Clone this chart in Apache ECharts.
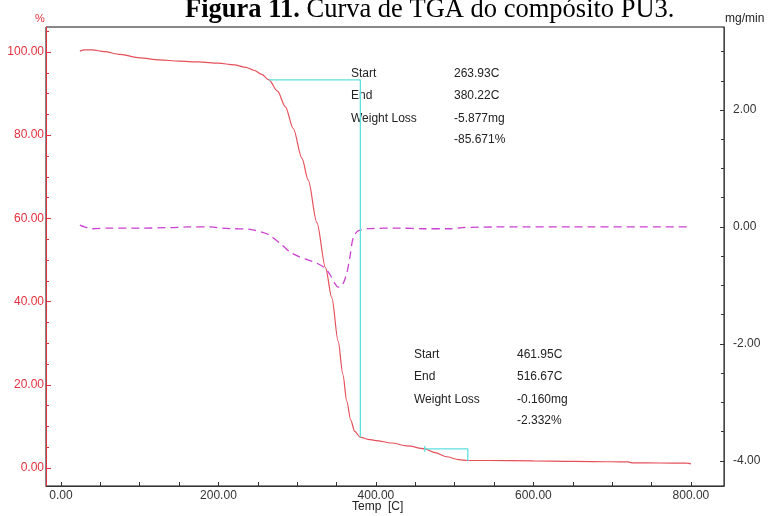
<!doctype html>
<html>
<head>
<meta charset="utf-8">
<title>Curva de TGA PU3</title>
<script src="https://cdn.jsdelivr.net/npm/echarts@6/dist/echarts.min.js"></script>
<style>
html, body { margin: 0; padding: 0; background: #fff; }
#chart { width: 771px; height: 516px; }
</style>
</head>
<body>
<div id="chart"></div>
<script type="text/javascript">
// TGA (peso %)
var tgaTemp = [24, 30, 40, 55, 75, 100, 125, 150, 175, 200, 220, 235, 245, 255, 264, 275, 285, 295, 306, 314, 325, 336, 344, 352, 358, 363, 368, 373, 380, 390, 400, 420, 440, 462, 475, 490, 505, 517, 540, 600, 650, 700, 720, 725, 760, 795, 800];
var tgaWeight = [100.2, 100.5, 100.5, 100.1, 99.4, 98.6, 98.1, 97.8, 97.6, 97.3, 96.9, 96.3, 95.6, 94.6, 93.3, 90.6, 86.8, 81.6, 74.5, 69.2, 59.0, 48.1, 40.9, 30.5, 22.5, 16.0, 11.5, 8.8, 7.4, 6.9, 6.6, 6.0, 5.3, 4.6, 3.7, 2.7, 2.0, 1.8, 1.8, 1.7, 1.6, 1.5, 1.45, 1.25, 1.2, 1.15, 1.0];
// DTG (mg/min)
var dtgTemp = [24, 30, 40, 60, 100, 140, 160, 190, 205, 220, 240, 255, 265, 280, 291, 303, 315, 325, 335, 340, 344, 348, 352, 356, 359, 363, 367, 371, 377, 389, 430, 460, 494, 510, 550, 650, 800];
var dtgRate = [0.03, 0.0, -0.03, -0.02, -0.02, -0.01, 0.0, 0.0, -0.02, -0.03, -0.04, -0.09, -0.14, -0.30, -0.43, -0.51, -0.57, -0.62, -0.70, -0.78, -0.87, -0.97, -1.03, -1.02, -0.95, -0.79, -0.51, -0.19, -0.07, -0.03, -0.02, -0.03, -0.03, -0.01, 0.0, 0.0, 0.0];

// marcacoes das etapas (Start / End)
var step1 = [[263.93, 93.3], [380.22, 93.3], [380.22, 7.4]];
var step2 = [[461.95, 4.6], [516.67, 4.6], [516.67, 1.7]];
var step2Mark = [[461.95, 5.3], [461.95, 3.9]];

// ticks
var xTicks = [0, 200, 400, 600, 800];
var xMinor = [0, 50, 100, 150, 200, 250, 300, 350, 400, 450, 500, 550, 600, 650, 700, 750, 800];
var leftTicks = [0, 20, 40, 60, 80, 100];
var leftMinor = [0, 5, 10, 15, 20, 25, 30, 35, 40, 45, 50, 55, 60, 65, 70, 75, 80, 85, 90, 95, 100, 105];
var rightTicks = [-4, -2, 0, 2];
var rightMinor = [-4, -3.5, -3, -2.5, -2, -1.5, -1, -0.5, 0, 0.5, 1, 1.5, 2, 2.5, 3];

var block1Labels = ['Start', 'End', 'Weight Loss', ''];
var block1Values = ['263.93C', '380.22C', '-5.877mg', '-85.671%'];
var block2Labels = ['Start', 'End', 'Weight Loss', ''];
var block2Values = ['461.95C', '516.67C', '-0.160mg', '-2.332%'];

var RED = '#e3303e';
var xMin = -19, xMax = 842;
var lMin = -4.33, lMax = 106;
var rMin = -4.43, rMax = 3.42;

function toXY(a, b) {
	var out = [];
	for (var i = 0; i < a.length; i++) out.push([a[i], b[i]]);
	return out;
}

function blockText(labels, values, x1, x2, y0, gaps) {
	var els = [];
	var y = y0;
	for (var i = 0; i < labels.length; i++) {
		if (labels[i]) els.push({ type: 'text', left: x1, top: y, style: { text: labels[i], font: '12px "Liberation Sans", Arial, sans-serif', fill: '#222' } });
		els.push({ type: 'text', left: x2, top: y, style: { text: values[i], font: '12px "Liberation Sans", Arial, sans-serif', fill: '#222' } });
		y += gaps[i];
	}
	return els;
}

var chart = echarts.init(document.getElementById('chart'));

var graphics = [
	{
		type: 'text', left: 185, top: -3,
		style: {
			text: '{b|Figura 11.} Curva de TGA do compósito PU3.',
			font: '26.5px "Liberation Serif", "Times New Roman", serif',
			fill: '#000',
			rich: { b: { font: 'bold 26.5px "Liberation Serif", "Times New Roman", serif', fill: '#000' } }
		}
	},
	{ type: 'text', left: 35, top: 13, style: { text: '%', font: '11px "Liberation Sans", Arial, sans-serif', fill: RED } },
	{ type: 'text', left: 725, top: 13, style: { text: 'mg/min', font: '12px "Liberation Sans", Arial, sans-serif', fill: '#222' } },
	{ type: 'text', left: 352, top: 501, style: { text: 'Temp  [C]', font: '12px "Liberation Sans", Arial, sans-serif', fill: '#222' } }
];
graphics = graphics.concat(blockText(block1Labels, block1Values, 351, 454, 68, [22, 23, 21, 0]));
graphics = graphics.concat(blockText(block2Labels, block2Values, 414, 517, 349, [22, 23, 21, 0]));

chart.setOption({
	animation: false,
	grid: { left: 46, right: 47, top: 27, bottom: 30, show: true, borderColor: '#111', borderWidth: 1, backgroundColor: 'transparent' },
	xAxis: [
		{
			type: 'value', min: xMin, max: xMax, position: 'bottom',
			axisLine: { show: true, onZero: false, lineStyle: { color: '#333', width: 1 } },
			axisTick: { show: true, inside: true, length: 4, customValues: xTicks, lineStyle: { color: '#333' } },
			axisLabel: { customValues: xTicks, color: '#333', fontSize: 12, margin: 4, fontFamily: '"Liberation Sans", Arial, sans-serif',
				formatter: function (v) { return v.toFixed(2); } },
			splitLine: { show: false }
		},
		{
			type: 'value', min: xMin, max: xMax, position: 'bottom',
			axisLine: { show: false, onZero: false },
			axisTick: { show: true, inside: true, length: 4, customValues: xMinor, lineStyle: { color: '#333' } },
			axisLabel: { show: false },
			splitLine: { show: false }
		}
	],
	yAxis: [
		{
			type: 'value', min: lMin, max: lMax, position: 'left',
			axisLine: { show: true, onZero: false, lineStyle: { color: RED, width: 1 } },
			axisTick: { show: true, inside: true, length: 5, customValues: leftTicks, lineStyle: { color: RED } },
			axisLabel: { customValues: leftTicks, color: RED, fontSize: 12, margin: 2, fontFamily: '"Liberation Sans", Arial, sans-serif',
				formatter: function (v) { return v.toFixed(2); } },
			splitLine: { show: false }
		},
		{
			type: 'value', min: rMin, max: rMax, position: 'right',
			axisLine: { show: true, onZero: false, lineStyle: { color: '#444', width: 1 } },
			axisTick: { show: true, inside: true, length: 4, customValues: rightTicks, lineStyle: { color: '#333' } },
			axisLabel: { customValues: rightTicks, color: '#333', fontSize: 12, margin: 9, fontFamily: '"Liberation Sans", Arial, sans-serif',
				formatter: function (v) { return v.toFixed(2); } },
			splitLine: { show: false }
		},
		{
			type: 'value', min: lMin, max: lMax, position: 'left',
			axisLine: { show: false, onZero: false },
			axisTick: { show: true, inside: true, length: 3, customValues: leftMinor, lineStyle: { color: RED } },
			axisLabel: { show: false },
			splitLine: { show: false }
		},
		{
			type: 'value', min: rMin, max: rMax, position: 'right',
			axisLine: { show: false, onZero: false },
			axisTick: { show: true, inside: true, length: 3, customValues: rightMinor, lineStyle: { color: '#333' } },
			axisLabel: { show: false },
			splitLine: { show: false }
		}
	],
	series: [
		{
			name: 'TGA', type: 'line', xAxisIndex: 0, yAxisIndex: 0,
			data: toXY(tgaTemp, tgaWeight), showSymbol: false, smooth: 0.3, smoothMonotone: 'x',
			lineStyle: { color: '#e6505a', width: 1.2 }
		},
		{
			name: 'DTG', type: 'line', xAxisIndex: 0, yAxisIndex: 1,
			data: toXY(dtgTemp, dtgRate), showSymbol: false, smooth: 0.3,
			lineStyle: { color: '#cc3fd1', width: 1.3, type: [8, 5] }
		},
		{ type: 'line', xAxisIndex: 0, yAxisIndex: 0, data: step1, showSymbol: false, lineStyle: { color: '#5fe0e0', width: 1.3 } },
		{ type: 'line', xAxisIndex: 0, yAxisIndex: 0, data: step2, showSymbol: false, lineStyle: { color: '#5fe0e0', width: 1.3 } },
		{ type: 'line', xAxisIndex: 0, yAxisIndex: 0, data: step2Mark, showSymbol: false, lineStyle: { color: '#5fe0e0', width: 1.3 } }
	],
	graphic: graphics
});
</script>
</body>
</html>
